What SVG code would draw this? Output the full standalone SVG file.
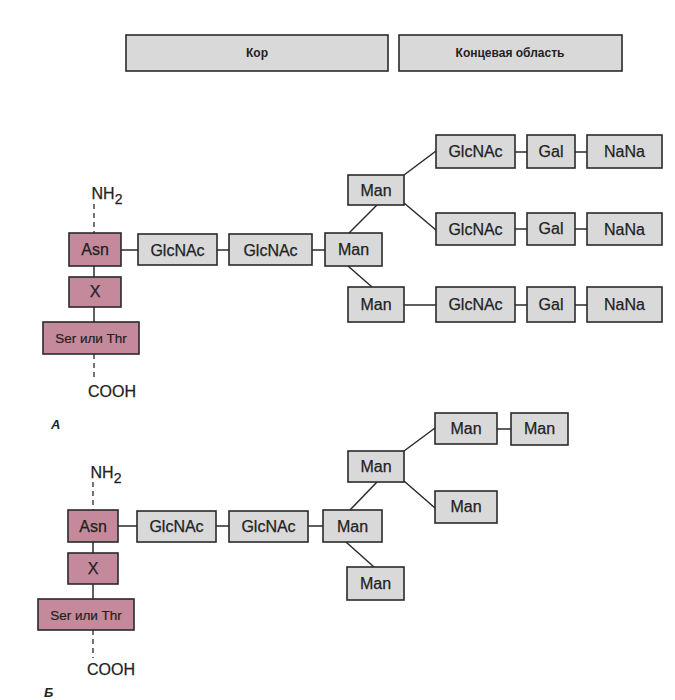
<svg xmlns="http://www.w3.org/2000/svg" width="675" height="700" viewBox="0 0 675 700">
<style>
.g{fill:#d9d9d9;stroke:#2a2a2a;stroke-width:1.6}
.p{fill:#c4899a;stroke:#2a2a2a;stroke-width:1.6}
.t{font-family:"Liberation Sans",Arial,sans-serif;font-size:16px;fill:#222;text-anchor:middle;stroke:#222;stroke-width:0.25}
.ts{font-family:"Liberation Sans",Arial,sans-serif;font-size:13.5px;fill:#222;text-anchor:middle;stroke:#222;stroke-width:0.2}
.h{font-family:"Liberation Sans",Arial,sans-serif;font-size:12px;font-weight:bold;fill:#222;text-anchor:middle}
.l{font-family:"Liberation Sans",Arial,sans-serif;font-size:13px;font-style:italic;font-weight:bold;fill:#222}
.c{stroke:#2a2a2a;stroke-width:1.5;fill:none}
.d{stroke:#2a2a2a;stroke-width:1.3;fill:none;stroke-dasharray:5 4}
</style>
<rect width="675" height="700" fill="#ffffff"/>
<g id="header">
<rect class="g" x="126" y="35" width="262" height="36"/>
<text class="h" x="257" y="57">Кор</text>
<rect class="g" x="399" y="35" width="223" height="36"/>
<text class="h" x="510" y="57">Концевая область</text>
</g>
<g id="connectors">
<line class="d" x1="94" y1="204" x2="94" y2="233"/>
<line class="c" x1="94" y1="266" x2="94" y2="277"/>
<line class="c" x1="94" y1="307" x2="94" y2="322"/>
<line class="d" x1="94" y1="354" x2="94" y2="380"/>
<line class="c" x1="121" y1="250" x2="138" y2="250"/>
<line class="c" x1="217" y1="250" x2="229" y2="250"/>
<line class="c" x1="312" y1="250" x2="325" y2="250"/>
<line class="c" x1="349" y1="233" x2="377" y2="205"/>
<line class="c" x1="348" y1="266" x2="372" y2="287"/>
<line class="c" x1="404" y1="175" x2="436" y2="151"/>
<line class="c" x1="404" y1="203" x2="436" y2="230"/>
<line class="c" x1="404" y1="305" x2="436" y2="305"/>
<line class="c" x1="515" y1="152" x2="527" y2="152"/>
<line class="c" x1="575" y1="152" x2="587" y2="152"/>
<line class="c" x1="515" y1="229" x2="527" y2="229"/>
<line class="c" x1="575" y1="229" x2="587" y2="229"/>
<line class="c" x1="515" y1="305" x2="527" y2="305"/>
<line class="c" x1="575" y1="305" x2="587" y2="305"/>
<line class="d" x1="93" y1="482" x2="93" y2="510"/>
<line class="c" x1="93" y1="542" x2="93" y2="553"/>
<line class="c" x1="93" y1="584" x2="93" y2="599"/>
<line class="d" x1="93" y1="630" x2="93" y2="658"/>
<line class="c" x1="118" y1="526" x2="137" y2="526"/>
<line class="c" x1="216" y1="526" x2="229" y2="526"/>
<line class="c" x1="308" y1="526" x2="323" y2="526"/>
<line class="c" x1="350" y1="510" x2="377" y2="482"/>
<line class="c" x1="346" y1="542" x2="374" y2="567"/>
<line class="c" x1="404" y1="451" x2="435" y2="428"/>
<line class="c" x1="404" y1="481" x2="435" y2="508"/>
<line class="c" x1="497" y1="429" x2="511" y2="429"/>
</g>
<g id="panelA">
<text class="t" x="107" y="199">NH<tspan font-size="14" dy="5">2</tspan></text>
<g id="a-asn"><rect class="p" x="69" y="233" width="52" height="33"/><text class="t" x="95" y="255">Asn</text></g>
<g id="a-x"><rect class="p" x="69" y="277" width="52" height="30"/><text class="t" x="95" y="297">X</text></g>
<g id="a-ser"><rect class="p" x="43" y="322" width="96" height="32"/><text class="ts" x="91" y="343">Ser или Thr</text></g>
<text class="t" x="112" y="397">COOH</text>
<text class="l" x="51" y="429">A</text>
<g id="a-glc1"><rect class="g" x="138" y="234" width="79" height="31"/><text class="t" x="177.5" y="256">GlcNAc</text></g>
<g id="a-glc2"><rect class="g" x="229" y="234" width="83" height="31"/><text class="t" x="270.5" y="256">GlcNAc</text></g>
<g id="a-man0"><rect class="g" x="325" y="233" width="57" height="33"/><text class="t" x="353.5" y="255">Man</text></g>
<g id="a-man1"><rect class="g" x="348" y="175" width="56" height="30"/><text class="t" x="376" y="196">Man</text></g>
<g id="a-man2"><rect class="g" x="348" y="287" width="56" height="35"/><text class="t" x="376" y="310">Man</text></g>
<g id="a-glc-r1"><rect class="g" x="436" y="135" width="79" height="33"/><text class="t" x="475.5" y="157">GlcNAc</text></g>
<g id="a-gal-r1"><rect class="g" x="527" y="135" width="48" height="33"/><text class="t" x="551" y="157">Gal</text></g>
<g id="a-nana-r1"><rect class="g" x="587" y="135" width="75" height="33"/><text class="t" x="624.5" y="157">NaNa</text></g>
<g id="a-glc-r2"><rect class="g" x="436" y="213" width="79" height="32"/><text class="t" x="475.5" y="235">GlcNAc</text></g>
<g id="a-gal-r2"><rect class="g" x="527" y="213" width="48" height="32"/><text class="t" x="551" y="234">Gal</text></g>
<g id="a-nana-r2"><rect class="g" x="587" y="213" width="75" height="32"/><text class="t" x="624.5" y="235">NaNa</text></g>
<g id="a-glc-r3"><rect class="g" x="436" y="287" width="79" height="35"/><text class="t" x="475.5" y="310">GlcNAc</text></g>
<g id="a-gal-r3"><rect class="g" x="527" y="287" width="48" height="35"/><text class="t" x="551" y="310">Gal</text></g>
<g id="a-nana-r3"><rect class="g" x="587" y="287" width="75" height="35"/><text class="t" x="624.5" y="310">NaNa</text></g>
</g>
<g id="panelB">
<text class="t" x="106" y="478">NH<tspan font-size="14" dy="5">2</tspan></text>
<g id="b-asn"><rect class="p" x="68" y="510" width="50" height="32"/><text class="t" x="93" y="532">Asn</text></g>
<g id="b-x"><rect class="p" x="68" y="553" width="50" height="31"/><text class="t" x="93" y="574">X</text></g>
<g id="b-ser"><rect class="p" x="38" y="599" width="96" height="31"/><text class="ts" x="86" y="620">Ser или Thr</text></g>
<text class="t" x="111" y="675">COOH</text>
<text class="l" x="44" y="697">Б</text>
<g id="b-glc1"><rect class="g" x="137" y="511" width="79" height="31"/><text class="t" x="176.5" y="532">GlcNAc</text></g>
<g id="b-glc2"><rect class="g" x="229" y="511" width="79" height="31"/><text class="t" x="268.5" y="532">GlcNAc</text></g>
<g id="b-man0"><rect class="g" x="323" y="510" width="59" height="32"/><text class="t" x="352.5" y="532">Man</text></g>
<g id="b-man1"><rect class="g" x="348" y="451" width="56" height="31"/><text class="t" x="376" y="472">Man</text></g>
<g id="b-man2"><rect class="g" x="347" y="567" width="57" height="33"/><text class="t" x="375.5" y="589">Man</text></g>
<g id="b-man3"><rect class="g" x="435" y="413" width="62" height="31"/><text class="t" x="466" y="434">Man</text></g>
<g id="b-man4"><rect class="g" x="511" y="413" width="57" height="32"/><text class="t" x="539.5" y="434">Man</text></g>
<g id="b-man5"><rect class="g" x="435" y="491" width="62" height="32"/><text class="t" x="466" y="512">Man</text></g>
</g>
</svg>
